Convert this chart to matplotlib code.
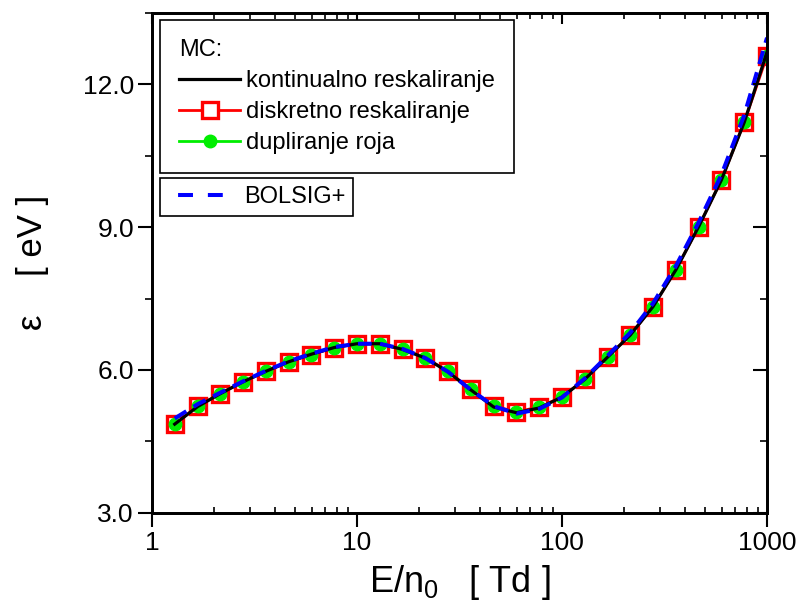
import matplotlib
matplotlib.use("Agg")
import matplotlib.pyplot as plt
import matplotlib.lines as mlines
from matplotlib.ticker import FixedLocator, FixedFormatter, NullFormatter, LogLocator

plt.rcParams['font.family'] = ['Liberation Sans', 'DejaVu Sans']
plt.rcParams['mathtext.fontset'] = 'custom'
plt.rcParams['mathtext.rm'] = 'Liberation Sans'
plt.rcParams['mathtext.it'] = 'Liberation Sans:italic'

# E/n0 [Td]
en = [1.29, 1.67, 2.15, 2.78, 3.59, 4.64, 5.99, 7.74, 10, 12.9, 16.7, 21.5, 27.8,
      35.9, 46.4, 59.9, 77.4, 100, 129, 167, 215, 278, 359, 464, 599, 774, 1000]
# mean energy [eV]
mc_continuous = [4.86, 5.23, 5.50, 5.75, 5.97, 6.17, 6.33, 6.47, 6.55, 6.55, 6.43, 6.25, 5.96,
                 5.58, 5.22, 5.10, 5.20, 5.43, 5.80, 6.27, 6.73, 7.33, 8.10, 9.01, 9.99, 11.20, 12.68]
mc_discrete = [4.86, 5.24, 5.50, 5.75, 5.97, 6.17, 6.32, 6.47, 6.55, 6.55, 6.43, 6.26, 5.97,
               5.59, 5.24, 5.12, 5.22, 5.43, 5.80, 6.27, 6.73, 7.33, 8.10, 9.01, 9.99, 11.20, 12.60]
mc_swarm = [4.86, 5.24, 5.50, 5.75, 5.97, 6.17, 6.32, 6.47, 6.55, 6.55, 6.43, 6.26, 5.97,
            5.59, 5.24, 5.12, 5.22, 5.43, 5.80, 6.27, 6.73, 7.33, 8.10, 9.01, 9.99, 11.20, 12.60]
bolsig = [4.98, 5.28, 5.52, 5.76, 5.98, 6.18, 6.34, 6.48, 6.55, 6.55, 6.44, 6.25, 5.96,
          5.58, 5.24, 5.08, 5.18, 5.42, 5.82, 6.30, 6.78, 7.40, 8.18, 9.10, 10.10, 11.35, 12.98]

yticks = [3.0, 6.0, 9.0, 12.0]
ytick_labels = ["3.0", "6.0", "9.0", "12.0"]
yminor = [4.5, 7.5, 10.5, 13.5]
xticks = [1, 10, 100, 1000]
xtick_labels = ["1", "10", "100", "1000"]

fig = plt.figure(figsize=(7.96, 6.15), dpi=100)
ax = fig.add_axes([0.191, 0.1664, 0.7726, 0.8125])

ax.plot(en, mc_discrete, color='red', lw=2, marker='s', ms=12,
        mfc='white', mec='red', mew=2.4, zorder=2)
ax.plot(en, mc_swarm, color='#00ee00', lw=2, marker='o', ms=9,
        mfc='#00ee00', mec='#00ee00', linestyle='none', zorder=3)
ax.plot(en, mc_continuous, color='black', lw=2.3, zorder=4)
ax.plot(en, bolsig, color='blue', lw=2.9, dashes=(3.4, 2.1), zorder=5)

h_black = mlines.Line2D([], [], color='black', lw=2.3)
h_red = mlines.Line2D([], [], color='red', lw=2, marker='s', ms=12, mfc='white', mec='red', mew=2.4)
h_green = mlines.Line2D([], [], color='#00ee00', lw=2, marker='o', ms=9, mfc='#00ee00', mec='#00ee00')
h_blue = mlines.Line2D([], [], color='blue', lw=2.9, linestyle=(4.9, (3.7, 3.7)))

ax.set_xscale('log')
ax.set_xlim(1, 1000)
ax.set_ylim(3.0, 13.5)

ax.xaxis.set_major_locator(FixedLocator(xticks))
ax.xaxis.set_major_formatter(FixedFormatter(xtick_labels))
ax.xaxis.set_minor_locator(LogLocator(base=10, subs=range(2, 10)))
ax.xaxis.set_minor_formatter(NullFormatter())
ax.yaxis.set_major_locator(FixedLocator(yticks))
ax.yaxis.set_major_formatter(FixedFormatter(ytick_labels))
ax.yaxis.set_minor_locator(FixedLocator(yminor))

ax.tick_params(which='major', direction='out', length=10, width=1.5, labelsize=19, pad=3)
ax.tick_params(axis='x', which='minor', direction='in', length=4, width=1.2)
ax.tick_params(axis='y', which='minor', direction='out', length=5, width=1.2)
for s in ax.spines.values():
    s.set_linewidth(1.8)

axt = ax.twiny()
axt.set_xscale('log')
axt.set_xlim(1, 1000)
axt.xaxis.set_major_locator(FixedLocator(xticks))
axt.xaxis.set_minor_locator(LogLocator(base=10, subs=range(2, 10)))
axt.xaxis.set_major_formatter(NullFormatter())
axt.xaxis.set_minor_formatter(NullFormatter())
axt.tick_params(which='major', direction='in', length=8, width=1.5)
axt.tick_params(which='minor', direction='in', length=4, width=1.2)
axr = ax.twinx()
axr.set_ylim(3.0, 13.5)
axr.yaxis.set_major_locator(FixedLocator(yticks))
axr.yaxis.set_minor_locator(FixedLocator(yminor))
axr.yaxis.set_major_formatter(NullFormatter())
axr.tick_params(which='major', direction='in', length=10, width=1.5)
axr.tick_params(which='minor', direction='in', length=5, width=1.2)
for a in (axt, axr):
    for s in a.spines.values():
        s.set_linewidth(1.8)

ax.set_xlabel(r'E/n$_\mathregular{0}$   [ Td ]', fontsize=26, labelpad=6)
ax.set_ylabel('ε    [ eV ]', fontsize=25, labelpad=24)

leg1 = axr.legend([h_black, h_red, h_green],
                  ['kontinualno reskaliranje', 'diskretno reskaliranje', 'dupliranje roja'],
                  title='MC:', title_fontsize=17, fontsize=17, alignment='left',
                  loc='upper left', bbox_to_anchor=(0.013, 0.986), borderaxespad=0,
                  handlelength=2.6, handletextpad=0.25, labelspacing=0.38,
                  frameon=True, fancybox=False, edgecolor='black', framealpha=1,
                  borderpad=0.8)
leg1.get_frame().set_linewidth(1.2)
axr.add_artist(leg1)
leg2 = axr.legend([h_blue], ['BOLSIG+'], fontsize=17,
                  loc='upper left', bbox_to_anchor=(0.013, 0.67), borderaxespad=0,
                  handlelength=2.35, handletextpad=0.85, borderpad=0.35,
                  frameon=True, fancybox=False, edgecolor='black', framealpha=1)
leg2.get_frame().set_linewidth(1.2)

fig.savefig('out.png', dpi=100)
